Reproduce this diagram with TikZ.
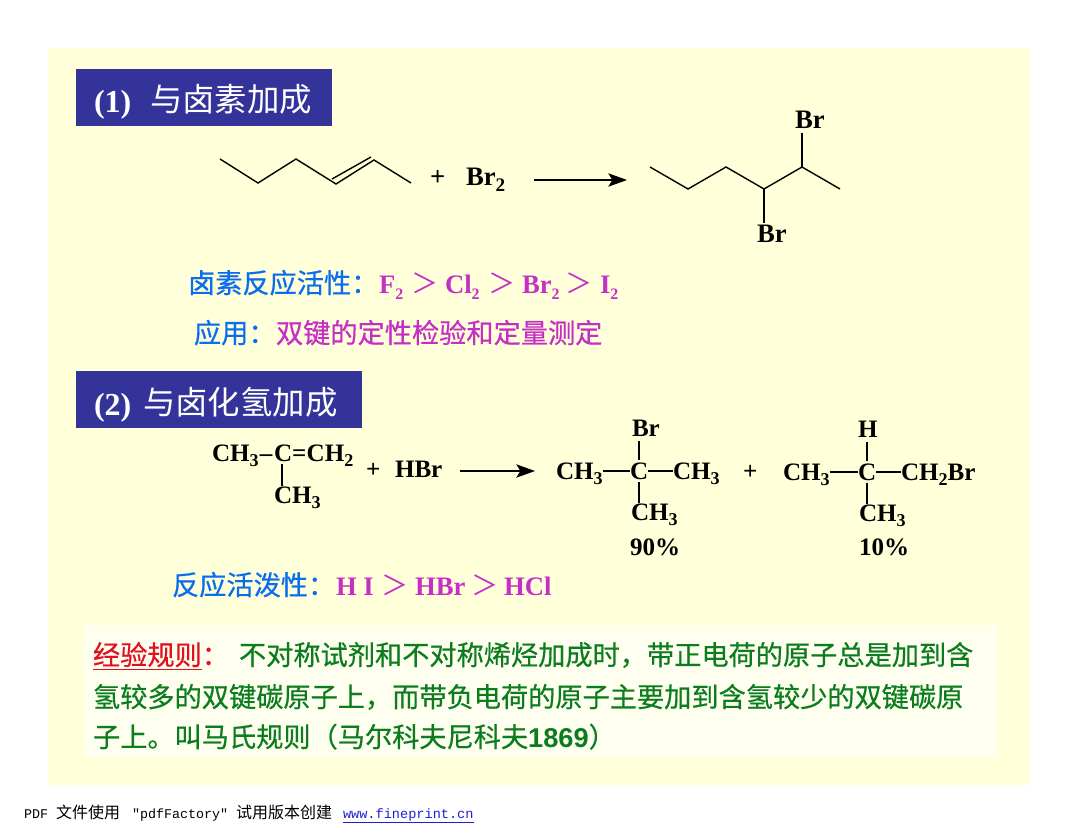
\documentclass[tikz,border=0pt]{standalone}
\usepackage{fontspec}
\setmainfont{Liberation Serif}
\newfontfamily\cjk{Noto Sans CJK SC}
\newfontfamily\cjkb[FakeBold=0.55]{Noto Sans CJK SC}
\newfontfamily\arialf{Liberation Sans}
\newfontfamily\monof{Liberation Mono}
\usetikzlibrary{arrows.meta}
\definecolor{bgy}{HTML}{FFFFD9}
\definecolor{rulebg}{HTML}{FFFFF0}
\definecolor{headblue}{HTML}{333399}
\definecolor{txtblue}{HTML}{0A6CF0}
\definecolor{txtmag}{HTML}{C62FC6}
\definecolor{txtgreen}{HTML}{0B7D1E}
\definecolor{txtred}{HTML}{E01020}
\definecolor{linkblue}{HTML}{2020D0}
\newcommand\dn[1]{\raisebox{-0.22em}{\scalebox{0.72}{#1}}}
\newcommand\dnn[1]{\raisebox{-0.26em}{\scalebox{0.6}{#1}}}
\tikzset{
  txt/.style={anchor=base west,inner sep=0pt,outer sep=0pt},
  chem/.style={txt,text=black,font=\fontsize{20pt}{22pt}\selectfont\bfseries},
  chemb/.style={txt,text=black,font=\fontsize{18.8pt}{22pt}\selectfont\bfseries},
  body/.style={txt,font=\cjkb\fontsize{20.4pt}{24pt}\selectfont},
  magtxt/.style={txt,text=txtmag,font=\fontsize{20pt}{22pt}\selectfont\bfseries},
  gtsign/.style={txt,text=txtmag,font=\cjk\fontsize{20.4pt}{24pt}\selectfont},
  headtxt/.style={txt,text=white,font=\cjk\fontsize{24.3pt}{28pt}\selectfont},
  bond/.style={draw=black,line width=1.05pt,line join=miter},
  cbond/.style={bond,shorten >=#1,shorten <=2pt},
  rxnarrow/.style={draw=black,line width=1.05pt,-{Stealth[length=14pt,width=10pt,inset=3pt]}},
  panel/.style={fill=#1,draw=none}
}
\begin{document}
\begin{tikzpicture}[x=0.75pt,y=-0.75pt]
\useasboundingbox (0,0) rectangle (1080,834);
\fill[white] (0,0) rectangle (1080,834);
\fill[panel=bgy] (48,48) rectangle (1031,785);
\fill[panel=headblue] (76,69) rectangle (332,126);
\fill[panel=headblue] (76,371) rectangle (362,428);
\fill[panel=rulebg] (84,625) rectangle (997,757);

% headings
\node[headtxt] (h1a) at (94,113) {\fontsize{24pt}{28pt}\selectfont\rmfamily\bfseries (1)};
\node[headtxt] (h1b) at (150,112) {与卤素加成};
\node[headtxt] (h2a) at (94,415) {\fontsize{24pt}{28pt}\selectfont\rmfamily\bfseries (2)};
\node[headtxt] (h2b) at (143,414) {与卤化氢加成};

% alkene skeleton
\coordinate (a1) at (220,159);
\coordinate (a2) at (258,183);
\coordinate (a3) at (296,159);
\coordinate (a4) at (336,184);
\coordinate (a5) at (374,160);
\coordinate (a6) at (411,183);
\coordinate (a4i) at (332,179);
\coordinate (a5i) at (371,157);
\draw[bond] (a1) -- (a2) -- (a3) -- (a4) -- (a5) -- (a6);
\draw[bond] (a4i) -- (a5i);

\node[chem] (plus1) at (430,186) {+};
\node[chem] (br2) at (466,186) {Br\dn{2}};
\coordinate (ar1s) at (534,180);
\coordinate (ar1e) at (627,180);
\draw[rxnarrow] (ar1s) -- (ar1e);

% product skeleton
\coordinate (p1) at (650,167);
\coordinate (p2) at (688,189);
\coordinate (p3) at (726,167);
\coordinate (p4) at (764,189);
\coordinate (p5) at (802,167);
\coordinate (p6) at (840,189);
\node[chem] (brt) at (795,129) {Br};
\node[chem] (brb) at (757,243) {Br};
\draw[bond] (p1) -- (p2) -- (p3) -- (p4) -- (p5) -- (p6);
\draw[bond,shorten >=3pt] (p5) -- (p5 |- brt.south);
\draw[bond,shorten >=2pt] (p4) -- (p4 |- brb.north);

% reactivity lines
\node[body,text=txtblue] (r1) at (188,293) {卤素反应活性：};
\node[magtxt] (f2) at (379,293) {F\dnn{2}};
\node[gtsign] (g1) at (411,293) {＞};
\node[magtxt] (cl2) at (445,293) {Cl\dnn{2}};
\node[gtsign] (g2) at (488,293) {＞};
\node[magtxt] (br2m) at (522,293) {Br\dnn{2}};
\node[gtsign] (g3) at (565,293) {＞};
\node[magtxt] (i2) at (600,293) {I\dnn{2}};
\node[body,text=txtblue] (u1) at (194,343) {应用：};
\node[body,text=txtmag] (u2) at (276,343) {双键的定性检验和定量测定};

% HBr reaction
\node[chemb] (m1) at (212,461) {CH\dn{3}\hspace{1pt}–\hspace{1.2pt}C=\hspace{0.2pt}CH\dn{2}};
\node[chemb] (m1c) at (274,503) {CH\dn{3}};
\coordinate (m1t) at (282,464);
\draw[bond] (m1t) -- (m1c.north -| m1t);
\node[chemb] (plus2) at (366,477) {+};
\node[chemb] (hbr) at (395,477) {HBr};
\coordinate (ar2s) at (460,471);
\coordinate (ar2e) at (535,471);
\draw[rxnarrow] (ar2s) -- (ar2e);

\node[chemb] (lch) at (556,479) {CH\dn{3}};
\node[chemb] (lc) at (630,479) {C};
\node[chemb] (rch) at (673,479) {CH\dn{3}};
\node[chemb] (lbr) at (632,436) {Br};
\node[chemb] (lbt) at (631,520) {CH\dn{3}};
\node[chemb] (l90) at (630,555) {90\%};
\draw[bond] (lc.center -| lch.east) -- (lc.west |- lc.center);
\draw[bond] (lc.east |- lc.center) -- (lc.center -| rch.west);
\draw[cbond=3.5pt] (lc.north) -- (lc.north |- lbr.south);
\draw[bond,shorten <=2pt] (lc.south) -- (lc.south |- lbt.north);

\node[chemb] (plus3) at (743,479) {+};

\node[chemb] (rl) at (783,480) {CH\dn{3}};
\node[chemb] (rc) at (858,480) {C};
\node[chemb] (rr) at (901,480) {CH\dn{2}Br};
\node[chemb] (rh) at (858,437) {H};
\node[chemb] (rb) at (859,521) {CH\dn{3}};
\node[chemb] (r10) at (859,555) {10\%};
\draw[bond] (rc.center -| rl.east) -- (rc.west |- rc.center);
\draw[bond] (rc.east |- rc.center) -- (rc.center -| rr.west);
\draw[cbond=3.5pt] (rc.north) -- (rc.north |- rh.south);
\draw[bond,shorten <=2pt] (rc.south) -- (rc.south |- rb.north);

\node[body,text=txtblue] (a1t) at (172,595) {反应活泼性：};
\node[magtxt] (hi) at (336,595) {H I};
\node[gtsign] (g4) at (381,595) {＞};
\node[magtxt] (hbrm) at (415,595) {HBr};
\node[gtsign] (g5) at (471,595) {＞};
\node[magtxt] (hcl) at (504,595) {HCl};

% rule text
\node[body,text=txtred] (k1) at (93,665) {\underline{经验规则}：};
\node[body,text=txtgreen] (k2) at (239,665) {不对称试剂和不对称烯烃加成时，带正电荷的原子总是加到含};
\node[body,text=txtgreen] (k3) at (93,707) {氢较多的双键碳原子上，而带负电荷的原子主要加到含氢较少的双键碳原};
\node[body,text=txtgreen] (k4) at (93,747) {子上。叫马氏规则（马尔科夫尼科夫{\arialf\bfseries 1869}）};

% footer
\node[txt,text=black,font=\monof\fontsize{10pt}{12pt}\selectfont] (f1) at (24,818) {PDF {\cjk\fontsize{12pt}{12pt}\selectfont 文件使用}\hspace{3pt} "pdfFactory" {\cjk\fontsize{12pt}{12pt}\selectfont 试用版本创建}};
\node[txt,text=linkblue,font=\monof\fontsize{10.2pt}{12pt}\selectfont] (f3) at (343,818) {\underline{www.fineprint.cn}};
\end{tikzpicture}
\end{document}
